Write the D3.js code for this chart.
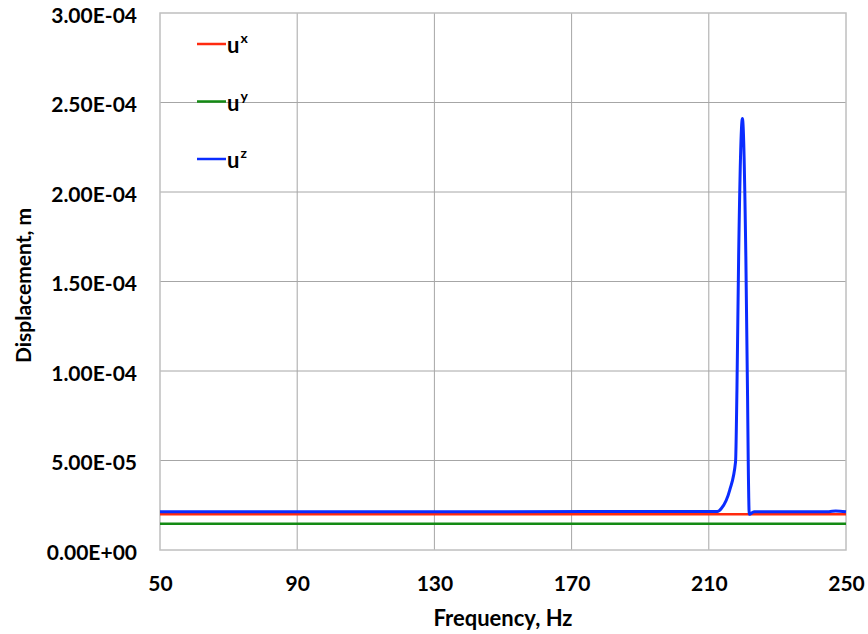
<!DOCTYPE html>
<html>
<head>
<meta charset="utf-8">
<script src="https://cdn.jsdelivr.net/npm/d3@7"></script>
<style>
  body { margin: 0; background: #fff; }
  text { font-family: Lato, "Open Sans", sans-serif; font-weight: bold; fill: #000; }
</style>
</head>
<body>
<svg width="868" height="634"></svg>
<script>
// x axis ticks and y axis ticks
const xTicks = [50, 90, 130, 170, 210, 250];
const yTicks = [0, 5e-5, 1e-4, 1.5e-4, 2e-4, 2.5e-4, 3e-4];

// ux and uy are flat over the whole range
const flatFreq = [50, 250];
const ux = [2.0e-5, 2.0e-5];
const uy = [1.47e-5, 1.47e-5];

// uz (resonance near 220 Hz)
const uzFreq = [50, 100, 150, 200, 212.5, 213.7, 216.1, 217.8, 218.2, 218.7, 219.8, 220.8, 221.3, 221.5, 221.8, 223.2, 245, 247, 250];
const uz = [2.14e-5, 2.14e-5, 2.14e-5, 2.15e-5, 2.15e-5, 2.33e-5, 3.35e-5, 4.93e-5, 8.9e-5, 1.64e-4, 2.41e-4, 1.64e-4, 8.6e-5, 4.9e-5, 2.0e-5, 2.14e-5, 2.14e-5, 2.18e-5, 2.14e-5];

const seriesNames = ['x', 'y', 'z'];
const seriesColors = ['#ff2a0f', '#138a13', '#0a2cff'];

const svg = d3.select('svg');
const margin = {left: 160, right: 22, top: 13, bottom: 84};
const width = 868, height = 634;

const x = d3.scaleLinear().domain([50, 250]).range([margin.left, width - margin.right]);
const y = d3.scaleLinear().domain([0, 3e-4]).range([height - margin.bottom, margin.top]);

// grid
svg.append('g')
    .selectAll('line.v')
    .data(xTicks.slice(1, -1))
    .join('line')
    .attr('x1', d => x(d)).attr('x2', d => x(d))
    .attr('y1', y(0)).attr('y2', y(3e-4))
    .attr('stroke', '#a6a6a6').attr('stroke-width', 1);

svg.append('g')
    .selectAll('line.h')
    .data(yTicks.slice(1, -1))
    .join('line')
    .attr('x1', x(50)).attr('x2', x(250))
    .attr('y1', d => y(d)).attr('y2', d => y(d))
    .attr('stroke', '#a6a6a6').attr('stroke-width', 1);

// plot border
svg.append('rect')
    .attr('x', x(50)).attr('y', y(3e-4))
    .attr('width', x(250) - x(50)).attr('height', y(0) - y(3e-4))
    .attr('fill', 'none').attr('stroke', '#bfbfbf').attr('stroke-width', 1.5);

// axes (labels only, Excel style)
const xAxis = svg.append('g')
    .attr('transform', `translate(0,${y(0)})`)
    .call(d3.axisBottom(x).tickValues(xTicks).tickSize(0).tickPadding(26));
xAxis.select('.domain').remove();
xAxis.selectAll('text').style('font-size', '21px').attr('fill', '#000');

const yAxis = svg.append('g')
    .attr('transform', `translate(${x(50)},0)`)
    .call(d3.axisLeft(y).tickValues(yTicks).tickSize(0).tickPadding(23)
        .tickFormat(d => d.toExponential(2).toUpperCase().replace(/E([+-])(\d)$/, 'E$10$2')));
yAxis.select('.domain').remove();
yAxis.selectAll('text').style('font-size', '21px').attr('dy', '0.45em').attr('fill', '#000');

// lines
const line = d3.line().x(d => x(d[0])).y(d => y(d[1])).curve(d3.curveMonotoneX);

const data = [
    d3.zip(flatFreq, ux),
    d3.zip(flatFreq, uy),
    d3.zip(uzFreq, uz)
];

svg.append('g')
    .selectAll('path')
    .data(data)
    .join('path')
    .attr('d', line)
    .attr('fill', 'none')
    .attr('stroke', (d, i) => seriesColors[i])
    .attr('stroke-width', (d, i) => i === 2 ? 3 : 2.5)
    .attr('stroke-linejoin', 'round');

// legend
const legend = svg.append('g')
    .selectAll('g')
    .data(seriesNames)
    .join('g')
    .attr('transform', (d, i) => `translate(197,${44 + i * 57.5})`);

legend.append('line')
    .attr('x1', 0).attr('x2', 29)
    .attr('stroke', (d, i) => seriesColors[i])
    .attr('stroke-width', 2.5);

const legendText = legend.append('text')
    .attr('x', 30).attr('y', 9)
    .style('font-size', '22px');
legendText.append('tspan').text('u');
legendText.append('tspan')
    .attr('dy', -10)
    .attr('dx', 1)
    .style('font-size', '14px')
    .text(d => d);

// axis titles
svg.append('text')
    .attr('x', (x(50) + x(250)) / 2).attr('y', 626)
    .attr('text-anchor', 'middle')
    .style('font-size', '22px')
    .text('Frequency, Hz');

svg.append('text')
    .attr('transform', `translate(31,${(y(0) + y(3e-4)) / 2 + 4}) rotate(-90)`)
    .attr('text-anchor', 'middle')
    .style('font-size', '21px')
    .text('Displacement, m');
</script>
</body>
</html>
